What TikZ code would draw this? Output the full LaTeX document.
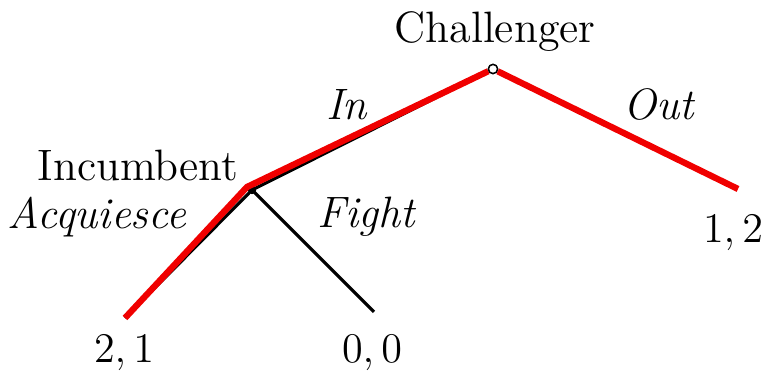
\documentclass[tikz,border=0pt]{standalone}
\usepackage{tikz}
\usetikzlibrary{positioning}
\definecolor{EqRed}{RGB}{240,0,0}

\begin{document}
\begin{tikzpicture}[x=0.01cm, y=-0.01cm,
          every node/.style={font=\fontsize{12.5}{15}\selectfont},
          move/.style={draw=black, line width=0.9pt},
          eqpath/.style={draw=EqRed, line width=1.8pt},
          rootnode/.style={circle, draw=black, fill=white, line width=0.4pt,
                           inner sep=0pt, minimum size=2.6pt},
          decnode/.style={circle, fill=black, inner sep=0pt, minimum size=2.4pt},
          lbl/.style={font=\fontsize{12.5}{15}\selectfont\itshape}
        ]
        \useasboundingbox (0,0) rectangle (775,374);

        % decision nodes and ends
        \node[rootnode] (root) at (493,69) {};
        \node[decnode]  (inc)  at (252,190) {};
        \coordinate (out) at (738,189);
        \coordinate (acq) at (125,318);
        \coordinate (fight) at (374,312);

        % player names
        \node (chal) at (495,32)  {Challenger};
        \node (incn) at (138,165) {Incumbent};

        % black tree
        \draw[move] (inc.center) -- (root);
        \draw[move] (inc.center) -- (acq);
        \draw[move] (inc.center) -- (fight);

        % equilibrium path
        \draw[eqpath] (acq) -- ([shift={(-5,-3)}]inc.center) -- (root.205);
        \draw[eqpath] (root) -- (out);
        \node[rootnode] at (root) {};

        % move labels
        \node (inl)  at (347,105) {\textit{In}};
        \node (outl) at (660,105) {\textit{Out}};
        \node (acql) at (97,217)  {\textit{Acquiesce}};
        \node (figl) at (367,217) {\textit{Fight}};

        % payoffs
        \node (p12) at (733,233) {$1,2$};
        \node (p21) at (124,353) {$2,1$};
        \node (p00) at (372,353) {$0,0$};
      \end{tikzpicture}
\end{document}
